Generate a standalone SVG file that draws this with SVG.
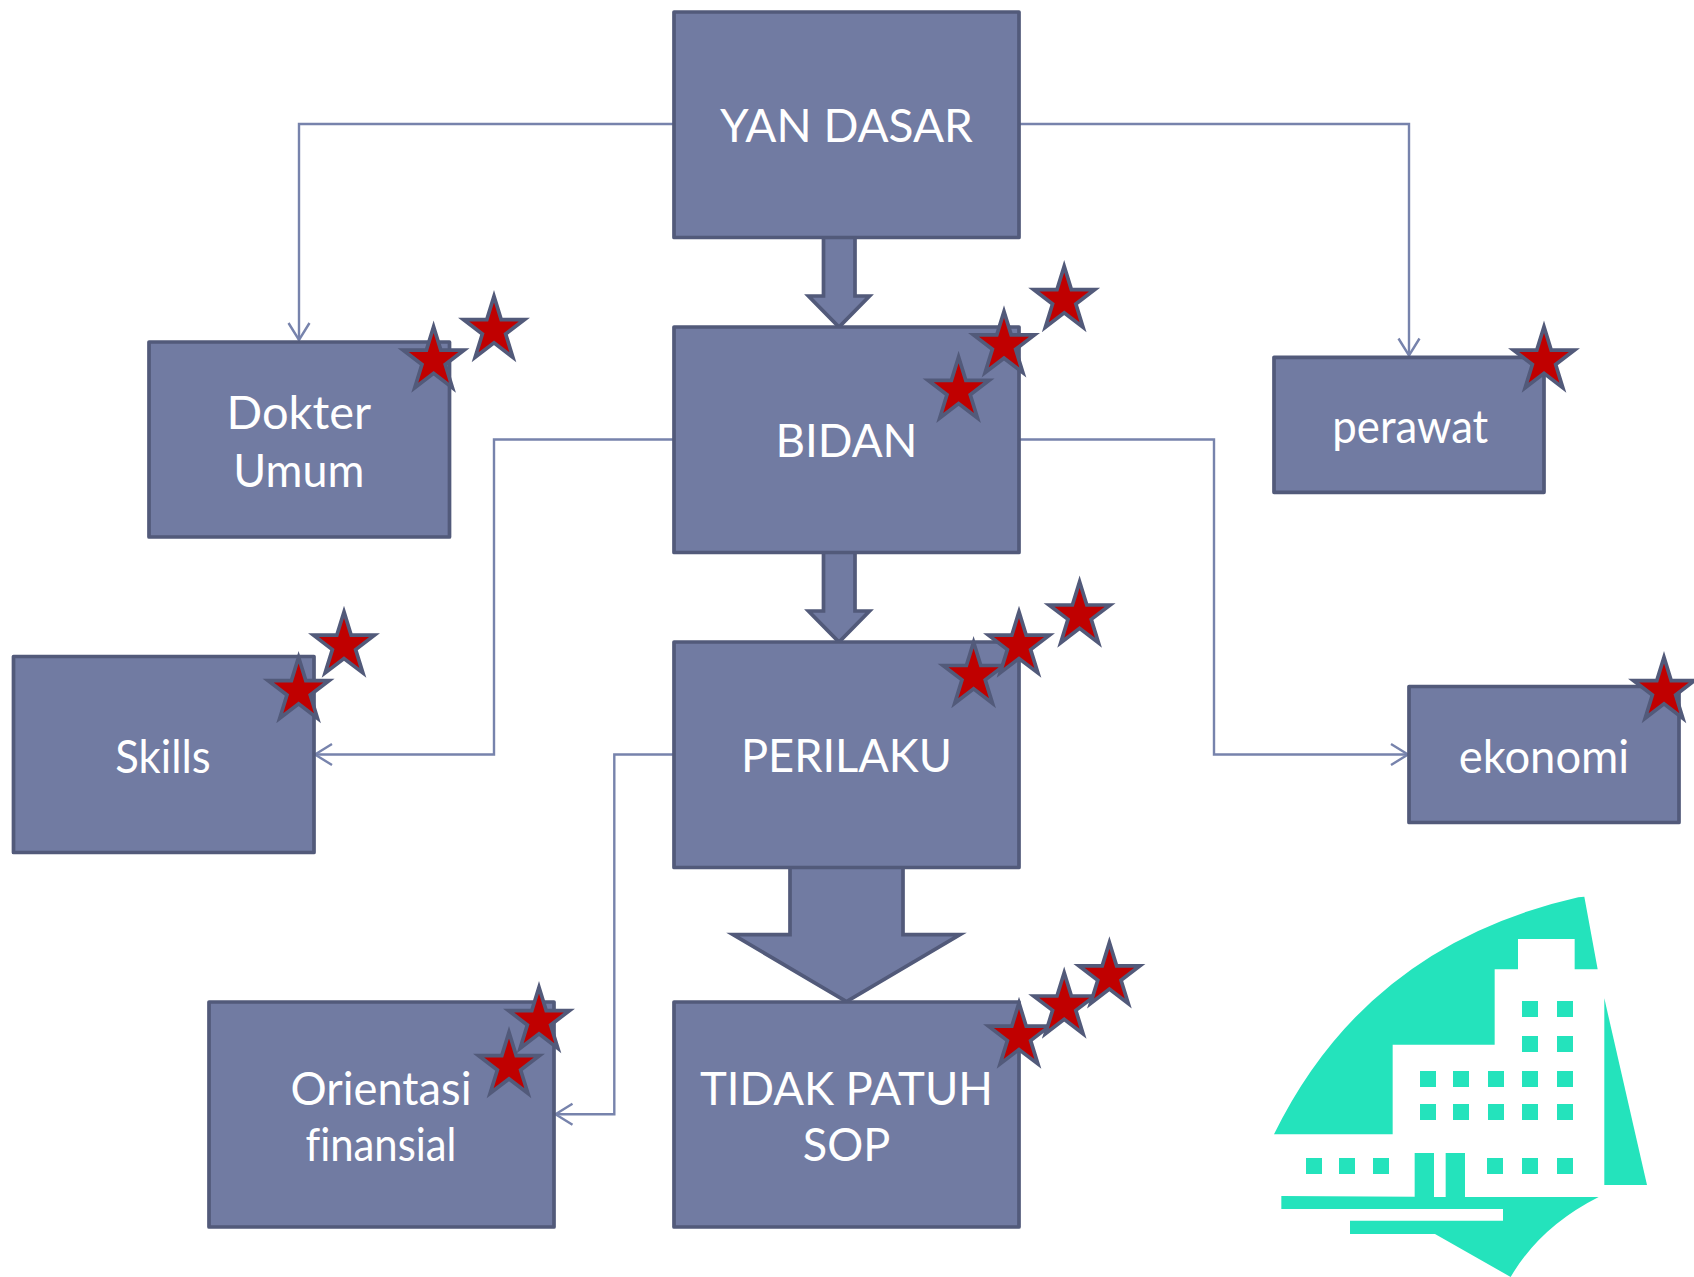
<svg xmlns="http://www.w3.org/2000/svg" xmlns:xlink="http://www.w3.org/1999/xlink" width="1694" height="1277" viewBox="0 0 1694 1277">
<style>
.box{fill:#717BA2;stroke:#525A7A;stroke-width:3.7;stroke-linejoin:round}
.blk{fill:#717BA2;stroke:#525A7A;stroke-width:3.7;stroke-linejoin:miter}
.star{fill:#C00000;stroke:#525A7A;stroke-width:3.7;stroke-linejoin:miter;stroke-miterlimit:8}
.lbl{font-family:"Lato","Liberation Sans",sans-serif;font-size:46px;fill:#fff;text-anchor:middle;font-variant-ligatures:none}
.con{fill:none;stroke:#7783AC;stroke-width:2.4}
.logo{fill:#24E3BC}
</style>
<defs>
<polygon id="s" class="star" points="0,-33.7 7.2,-10.42 30.5,-10.42 11.65,3.98 18.85,27.28 0,12.88 -18.85,27.28 -11.65,3.98 -30.5,-10.42 -7.2,-10.42"/>
<marker id="oa" markerUnits="userSpaceOnUse" markerWidth="26" markerHeight="26" refX="21" refY="13" orient="auto" viewBox="0 0 26 26"><path d="M4 2.5L21 13L4 23.5" fill="none" stroke="#7783AC" stroke-width="2.4"/></marker>
</defs>
<rect width="1694" height="1277" fill="#fff"/>
<g id="connectors">
<path class="con" marker-end="url(#oa)" d="M674 124H299V340"/>
<path class="con" marker-end="url(#oa)" d="M1019 124H1409V355.5"/>
<path class="con" marker-end="url(#oa)" d="M674 439.5H494V754.5H315"/>
<path class="con" marker-end="url(#oa)" d="M1019 439.5H1214V754.5H1408"/>
<path class="con" marker-end="url(#oa)" d="M674 754.5H614.3V1114.3H555.5"/>
</g>
<g id="arrow-1"><polygon class="blk" points="823.5,237 855,237 855,296 869.5,296 839,327 808.5,296 823.5,296"/></g>
<g id="arrow-2"><polygon class="blk" points="823.5,552 855,552 855,611 869.5,611 839,642 808.5,611 823.5,611"/></g>
<g id="arrow-3"><polygon class="blk" points="790,867 903,867 903,934.7 960,934.7 846.5,1001.5 733,934.7 790,934.7"/></g>
<g id="node-yan-dasar"><rect class="box" x="674" y="12" width="345" height="225.5"/><text class="lbl" x="846.4" y="141.7" textLength="253" lengthAdjust="spacingAndGlyphs">YAN DASAR</text></g>
<g id="node-dokter-umum"><rect class="box" x="149" y="342" width="300.5" height="195"/><text class="lbl" x="298.8" y="428.7" textLength="144.5" lengthAdjust="spacingAndGlyphs">Dokter</text><text class="lbl" x="298.8" y="486.7" textLength="131" lengthAdjust="spacingAndGlyphs">Umum</text></g>
<g id="node-bidan"><rect class="box" x="674" y="327" width="345" height="225.5"/><text class="lbl" x="846.5" y="457" textLength="142" lengthAdjust="spacingAndGlyphs">BIDAN</text></g>
<g id="node-perawat"><rect class="box" x="1274" y="357.3" width="270" height="135"/><text class="lbl" x="1410.3" y="443" textLength="156" lengthAdjust="spacingAndGlyphs">perawat</text></g>
<g id="node-skills"><rect class="box" x="13.5" y="656.5" width="300.5" height="196"/><text class="lbl" x="163" y="773" textLength="95.5" lengthAdjust="spacingAndGlyphs">Skills</text></g>
<g id="node-perilaku"><rect class="box" x="674" y="642" width="345" height="225.5"/><text class="lbl" x="846.5" y="772" textLength="211" lengthAdjust="spacingAndGlyphs">PERILAKU</text></g>
<g id="node-ekonomi"><rect class="box" x="1409" y="686.5" width="270" height="136"/><text class="lbl" x="1544" y="773" textLength="170.5" lengthAdjust="spacingAndGlyphs">ekonomi</text></g>
<g id="node-orientasi"><rect class="box" x="209" y="1002" width="345" height="225"/><text class="lbl" x="381" y="1105" textLength="181" lengthAdjust="spacingAndGlyphs">Orientasi</text><text class="lbl" x="381" y="1161" textLength="151" lengthAdjust="spacingAndGlyphs">finansial</text></g>
<g id="node-tidak-patuh"><rect class="box" x="674" y="1002" width="345" height="225"/><text class="lbl" x="846.5" y="1104.5" textLength="293" lengthAdjust="spacingAndGlyphs">TIDAK PATUH</text><text class="lbl" x="846.5" y="1161" textLength="87.5" lengthAdjust="spacingAndGlyphs">SOP</text></g>
<g id="stars">
<use xlink:href="#s" href="#s" x="433.6" y="360.5"/>
<use xlink:href="#s" href="#s" x="494" y="330"/>
<use xlink:href="#s" href="#s" x="958.6" y="390.7"/>
<use xlink:href="#s" href="#s" x="1004" y="345.3"/>
<use xlink:href="#s" href="#s" x="1064.2" y="300"/>
<use xlink:href="#s" href="#s" x="1544" y="360.5"/>
<use xlink:href="#s" href="#s" x="298.6" y="691"/>
<use xlink:href="#s" href="#s" x="344" y="645.6"/>
<use xlink:href="#s" href="#s" x="973.6" y="675.9"/>
<use xlink:href="#s" href="#s" x="1019" y="645.6"/>
<use xlink:href="#s" href="#s" x="1079.6" y="615.4"/>
<use xlink:href="#s" href="#s" x="1664" y="691"/>
<use xlink:href="#s" href="#s" x="1019" y="1036.6"/>
<use xlink:href="#s" href="#s" x="1064.2" y="1006.4"/>
<use xlink:href="#s" href="#s" x="1109.4" y="976.2"/>
<use xlink:href="#s" href="#s" x="509" y="1066"/>
<use xlink:href="#s" href="#s" x="539" y="1021"/>
</g>
<g id="logo" class="logo" transform="translate(1240 870) scale(.33333)">
<path d="M102 793Q380 225 1015 82L1033 80L1073 298H1004V207H834V298H764V524H458V793Z"/>
<path d="M1093 385L1221 945H1093Z"/>
<path d="M124 978L524 980V849H582V981H617V849H675V981H1076Q900 1070 812 1221L585 1092H330V1052H789V1017H124Z"/>
<rect x="846" y="393" width="48" height="48"/><rect x="951" y="393" width="48" height="48"/>
<rect x="846" y="498" width="48" height="48"/><rect x="951" y="498" width="48" height="48"/>
<rect x="540" y="603" width="48" height="48"/><rect x="639" y="603" width="48" height="48"/><rect x="744" y="603" width="48" height="48"/><rect x="846" y="603" width="48" height="48"/><rect x="951" y="603" width="48" height="48"/>
<rect x="540" y="702" width="48" height="48"/><rect x="639" y="702" width="48" height="48"/><rect x="744" y="702" width="48" height="48"/><rect x="846" y="702" width="48" height="48"/><rect x="951" y="702" width="48" height="48"/>
<rect x="198" y="864" width="48" height="48"/><rect x="297" y="864" width="48" height="48"/><rect x="399" y="864" width="48" height="48"/><rect x="741" y="864" width="48" height="48"/><rect x="846" y="864" width="48" height="48"/><rect x="951" y="864" width="48" height="48"/>
</g>
</svg>
